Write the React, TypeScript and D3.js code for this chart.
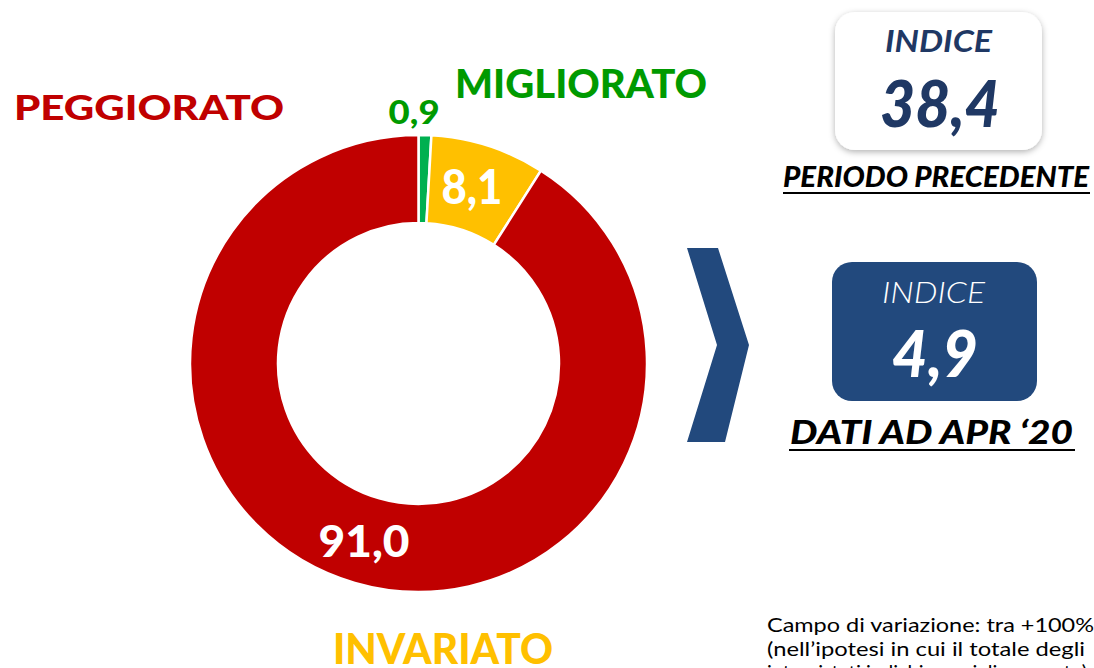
import React from "react";
import * as d3 from "d3";

const categories = ["MIGLIORATO", "INVARIATO", "PEGGIORATO"];
const values = [0.9, 8.1, 91.0];
const valueLabels = ["0,9", "8,1", "91,0"];
const sliceColors = ["#00B050", "#FFC000", "#C00000"];
const indexPrev = "38,4";
const indexNow = "4,9";
const indexTitle = "INDICE";
const prevLabel = "PERIODO PRECEDENTE";
const nowLabel = "DATI AD APR \u201820";
const noteLines = [
  "Campo di variazione: tra +100%",
  "(nell\u2019ipotesi in cui il totale degli",
  "intervistati indichi un miglioramento)",
];

const W = 1094;
const H = 668;
const FONT = "Lato, 'Noto Sans', sans-serif";

export default function App() {
  const cx = 418.5;
  const cy = 363.5;
  const rOuter = 228.5;
  const rInner = 140.5;

  const pie = d3
    .pie<number>()
    .sort(null)
    .value((d) => d)
    .startAngle(0)
    .endAngle(2 * Math.PI);
  const arcs = pie(values);
  const arc = d3.arc<d3.PieArcDatum<number>>().innerRadius(rInner).outerRadius(rOuter);
  const outerArc = d3.arc<d3.PieArcDatum<number>>().innerRadius(251).outerRadius(251);

  const labelFont = [46, 47, 43];
  const labelLen = [0, 61, 91];

  return (
    <svg
      width={W}
      height={H}
      style={{ position: "absolute", left: 0, top: 0, display: "block", background: "#fff" }}
      fontFamily={FONT}
    >
      <defs>
        <filter id="sh" x="-20%" y="-20%" width="140%" height="150%">
          <feDropShadow dx="0" dy="2" stdDeviation="3" floodColor="#000" floodOpacity="0.3" />
        </filter>
      </defs>

      {/* donut */}
      <g transform={`translate(${cx},${cy})`}>
        {arcs.map((a, i) => (
          <path key={categories[i]} d={arc(a) || ""} fill={sliceColors[i]} stroke="#fff" strokeWidth={2.5} />
        ))}
        {arcs.map((a, i) => {
          if (i === 0) {
            const [x, y] = outerArc.centroid(a);
            return (
              <text
                key={"l" + i}
                x={x - 11.5}
                y={y + 11}
                textAnchor="middle"
                fontWeight={900}
                fontSize={32}
                fill="#009A00"
                textLength={51}
                lengthAdjust="spacingAndGlyphs"
              >
                {valueLabels[i]}
              </text>
            );
          }
          const [x, y] = arc.centroid(a);
          return (
            <text
              key={"l" + i}
              x={x - 3}
              y={y + 16}
              textAnchor="middle"
              fontWeight={900}
              fontSize={labelFont[i]}
              fill="#fff"
              textLength={labelLen[i]}
              lengthAdjust="spacingAndGlyphs"
            >
              {valueLabels[i]}
            </text>
          );
        })}
      </g>

      {/* category labels */}
      <text x={14} y={120} fontWeight={900} fontSize={35} fill="#C00000" textLength={270} lengthAdjust="spacingAndGlyphs">
        {categories[2]}
      </text>
      <text x={455} y={98} fontWeight={900} fontSize={39} fill="#009A00" textLength={252} lengthAdjust="spacingAndGlyphs">
        {categories[0]}
      </text>
      <text x={333} y={664} fontWeight={900} fontSize={42} fill="#FFC000" textLength={220} lengthAdjust="spacingAndGlyphs">
        {categories[1]}
      </text>

      {/* chevron */}
      <polygon points="687,248 718,248 749,345 725,442 687,442 717,345" fill="#22497D" />

      {/* box 1 */}
      <rect x={835} y={12} width={207} height={138} rx={20} ry={20} fill="#fff" filter="url(#sh)" />
      <text x={938.5} y={52} textAnchor="middle" fontStyle="italic" fontWeight={700} fontSize={30} fill="#1F3864" textLength={107} lengthAdjust="spacingAndGlyphs">
        {indexTitle}
      </text>
      <text x={940} y={127} textAnchor="middle" fontStyle="italic" fontWeight={900} fontSize={64} fill="#1F3864" textLength={120} lengthAdjust="spacingAndGlyphs">
        {indexPrev}
      </text>
      <text x={783} y={187} fontStyle="italic" fontWeight={900} fontSize={29} fill="#000" textLength={306} lengthAdjust="spacingAndGlyphs">
        {prevLabel}
      </text>
      <line x1={783} x2={1090} y1={193} y2={193} stroke="#000" strokeWidth={2} />

      {/* box 2 */}
      <rect x={832} y={262} width={205} height={139} rx={20} ry={20} fill="#22497D" />
      <text x={933.5} y={303} textAnchor="middle" fontStyle="italic" fontWeight={300} fontSize={30} fill="#fff" textLength={103} lengthAdjust="spacingAndGlyphs">
        {indexTitle}
      </text>
      <text x={935} y={377} textAnchor="middle" fontStyle="italic" fontWeight={900} fontSize={64} fill="#fff" textLength={86} lengthAdjust="spacingAndGlyphs">
        {indexNow}
      </text>
      <text x={790} y={444} fontStyle="italic" fontWeight={900} fontSize={32} fill="#000" textLength={283} lengthAdjust="spacingAndGlyphs">
        {nowLabel}
      </text>
      <line x1={789} x2={1075} y1={450} y2={450} stroke="#000" strokeWidth={2} />

      {/* note */}
      {noteLines.map((t, i) => (
        <text
          key={i}
          x={767}
          y={632 + i * 23.5}
          fontSize={20}
          fill="#000"
          textLength={i === 0 ? 327 : i === 1 ? 318 : 320}
          lengthAdjust="spacingAndGlyphs"
        >
          {t}
        </text>
      ))}
    </svg>
  );
}
